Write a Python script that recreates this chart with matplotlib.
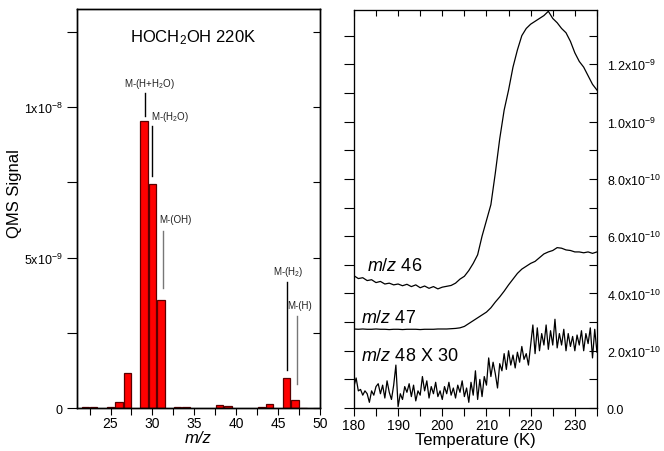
import matplotlib
matplotlib.use("Agg")
from matplotlib import pyplot as plt
from matplotlib.ticker import MultipleLocator, FixedLocator, NullFormatter
import numpy as np

plt.rcParams['font.family'] = ['Liberation Sans', 'DejaVu Sans']
plt.rcParams['mathtext.fontset'] = 'custom'
plt.rcParams['mathtext.rm'] = 'Liberation Sans'
plt.rcParams['mathtext.it'] = 'Liberation Sans:italic'

# mass spectrum at 220 K
mz = [22, 23, 25, 26, 27, 29, 30, 31, 33, 34, 38, 39, 43, 44, 46, 47, 48]
signal = [0.02e-9, 0.02e-9, 0.02e-9, 0.19e-9, 1.15e-9, 9.55e-9, 7.45e-9, 3.59e-9,
          0.03e-9, 0.02e-9, 0.09e-9, 0.06e-9, 0.05e-9, 0.13e-9, 1.0e-9, 0.28e-9, 0.01e-9]

# TPD traces (units of 1e-10)
temp_46 = list(range(180, 236))
mz46 = [4.62, 4.52, 4.55, 4.45, 4.48, 4.38, 4.42, 4.33, 4.36, 4.30,
        4.33, 4.27, 4.32, 4.24, 4.30, 4.20, 4.26, 4.18, 4.24, 4.16,
        4.22, 4.25, 4.28, 4.36, 4.50, 4.60, 4.80, 5.05, 5.35, 6.00,
        6.55, 7.10, 8.20, 9.40, 10.40, 11.10, 11.90, 12.50, 13.00, 13.25,
        13.40, 13.50, 13.60, 13.70, 13.85, 13.60, 13.45, 13.25, 13.10, 12.80,
        12.40, 12.10, 11.90, 11.60, 11.30, 11.10]
temp_47 = list(range(180, 236))
mz47 = [2.76, 2.75, 2.76, 2.75, 2.75, 2.76, 2.75, 2.75, 2.74, 2.75,
        2.75, 2.74, 2.75, 2.75, 2.75, 2.74, 2.75, 2.75, 2.75, 2.76,
        2.76, 2.76, 2.77, 2.78, 2.80, 2.85, 2.95, 3.05, 3.15, 3.25,
        3.35, 3.50, 3.70, 3.88, 4.08, 4.30, 4.50, 4.70, 4.85, 4.95,
        5.05, 5.12, 5.25, 5.38, 5.45, 5.50, 5.60, 5.58, 5.52, 5.50,
        5.45, 5.45, 5.42, 5.45, 5.40, 5.45]
temp_48 = [180 + 0.5 * i for i in range(111)]
mz48x30 = [0.75, 1.05, 0.60, 0.65, 0.45, 0.60, 0.50, 0.20, 0.60, 0.45,
           0.75, 0.85, 0.50, 0.80, 0.35, 0.95, 0.55, 0.30, 0.80, 1.50,
           0.05, 0.50, 0.30, 0.75, 0.55, 0.85, 0.40, 0.80, 0.25, 0.60,
           0.45, 1.10, 0.60, 0.95, 0.35, 0.75, 0.50, 0.90, 0.40, 0.60,
           0.30, 0.75, 0.50, 0.90, 0.45, 0.70, 0.35, 0.80, 0.55, 0.95,
           0.40, 0.70, 0.20, 0.90, 0.45, 1.30, 0.30, 1.00, 0.40, 1.10,
           0.80, 1.75, 1.10, 1.60, 1.20, 0.70, 1.55, 1.30, 1.90, 1.35,
           2.00, 1.50, 1.85, 1.40, 1.95, 1.60, 2.15, 1.70, 1.90, 1.50,
           2.20, 2.90, 1.90, 2.80, 2.00, 2.60, 2.20, 2.90, 2.05, 2.70,
           2.20, 3.10, 2.10, 2.60, 2.20, 2.75, 2.00, 2.60, 2.15, 2.50,
           2.00, 2.55, 2.20, 2.70, 2.00, 2.60, 2.25, 2.80, 1.75, 2.75,
           1.95]

fig = plt.figure(figsize=(6.64, 4.52), dpi=100)

# ---- left: mass spectrum
ax1 = fig.add_axes([0.116, 0.095, 0.366, 0.883])
ax1.bar(mz, signal, width=0.88, color='#ff0000', edgecolor='#5a0000', linewidth=0.9)
ax1.set_xlim(21, 50)
ax1.set_ylim(0, 1.327e-8)
ax1.xaxis.set_major_locator(MultipleLocator(5))
ax1.xaxis.set_minor_locator(MultipleLocator(2.5))
ax1.yaxis.set_major_locator(FixedLocator([0, 5e-9, 1e-8]))
ax1.yaxis.set_minor_locator(MultipleLocator(2.5e-9))
ax1.set_yticklabels(['0', r'5x10$^{-9}$', r'1x10$^{-8}$'])
ax1.tick_params(axis='both', which='both', direction='out', length=5, width=0.8, labelsize=9)
ax1.tick_params(axis='x', which='both', labelsize=10, pad=1)
ax1.tick_params(axis='y', which='both', length=7)
ax1.set_xlabel('m/z', fontsize=12, style='italic', labelpad=0)
ax1.set_ylabel('QMS Signal', fontsize=12)
ax1.yaxis.set_label_coords(-0.226, 0.54)
tw1 = ax1.twinx()
tw1.set_ylim(ax1.get_ylim())
tw1.yaxis.set_major_locator(MultipleLocator(2.5e-9))
tw1.yaxis.set_major_formatter(NullFormatter())
tw1.tick_params(axis='y', direction='in', length=5, width=0.8)
for a in (ax1, tw1):
    for s in a.spines.values():
        s.set_linewidth(1.0)

ax1.text(0.476, 0.93, r'HOCH$_2$OH 220K', transform=ax1.transAxes,
         ha='center', va='center', fontsize=12)

notes = [
    (r'M-(H+H$_2$O)', 29.6, 1.081e-8, 'center', 29.1, 0.972e-8, 1.047e-8, 'black'),
    (r'M-(H$_2$O)', 29.88, 0.971e-8, 'left', 30.0, 0.773e-8, 0.939e-8, 'black'),
    ('M-(OH)', 30.76, 0.629e-8, 'left', 31.25, 0.400e-8, 0.589e-8, '#777777'),
    (r'M-(H$_2$)', 46.24, 0.457e-8, 'center', 46.0, 0.126e-8, 0.418e-8, 'black'),
    ('M-(H)', 46.1, 0.344e-8, 'left', 47.29, 0.080e-8, 0.307e-8, '#777777'),
]
for label, tx, ty, ha, lx, y0, y1, c in notes:
    ax1.text(tx, ty, label, ha=ha, va='center', fontsize=7, color='#222222')
    ax1.plot([lx, lx], [y0, y1], color=c, linewidth=1.0)

# ---- right: TPD traces
ax2 = fig.add_axes([0.533, 0.095, 0.366, 0.881])
ax2.plot(temp_46, np.array(mz46) * 1e-10, color='black', linewidth=0.9)
ax2.plot(temp_47, np.array(mz47) * 1e-10, color='black', linewidth=0.9)
ax2.plot(temp_48, np.array(mz48x30) * 1e-10, color='black', linewidth=0.9)
ax2.set_xlim(180, 235)
ax2.set_ylim(0, 1.39e-9)
ax2.xaxis.set_major_locator(MultipleLocator(10))
ax2.xaxis.set_minor_locator(MultipleLocator(5))
ax2.yaxis.set_major_locator(MultipleLocator(1e-10))
ax2.yaxis.set_major_formatter(NullFormatter())
ax2.tick_params(axis='both', which='both', direction='out', length=6, width=0.8, labelsize=9)
ax2.tick_params(axis='x', which='both', labelsize=10, pad=1)
ax2.tick_params(axis='y', length=7)
ax2.set_xlabel('Temperature (K)', fontsize=12, labelpad=0)

tw2 = ax2.twinx()
tw2.set_ylim(ax2.get_ylim())
tw2.yaxis.set_major_locator(FixedLocator([0, 2e-10, 4e-10, 6e-10, 8e-10, 1e-9, 1.2e-9]))
tw2.yaxis.set_minor_locator(MultipleLocator(1e-10))
tw2.set_yticklabels(['0.0', r'2.0x10$^{-10}$', r'4.0x10$^{-10}$', r'6.0x10$^{-10}$',
                     r'8.0x10$^{-10}$', r'1.0x10$^{-9}$', r'1.2x10$^{-9}$'])
tw2.tick_params(axis='y', which='both', direction='in', length=6, width=0.8,
                labelsize=9, pad=7)

tt2 = ax2.twiny()
tt2.set_xlim(ax2.get_xlim())
tt2.xaxis.set_major_locator(MultipleLocator(5))
tt2.xaxis.set_major_formatter(NullFormatter())
tt2.tick_params(axis='x', direction='in', length=4, width=0.8)

ax2.text(182.9, 4.96e-10, r'$m/z$ 46', ha='left', va='center', fontsize=13)
ax2.text(181.5, 3.17e-10, r'$m/z$ 47', ha='left', va='center', fontsize=13)
ax2.text(181.5, 1.85e-10, r'$m/z$ 48 X 30', ha='left', va='center', fontsize=13)

fig.savefig('out.png', dpi=100)
